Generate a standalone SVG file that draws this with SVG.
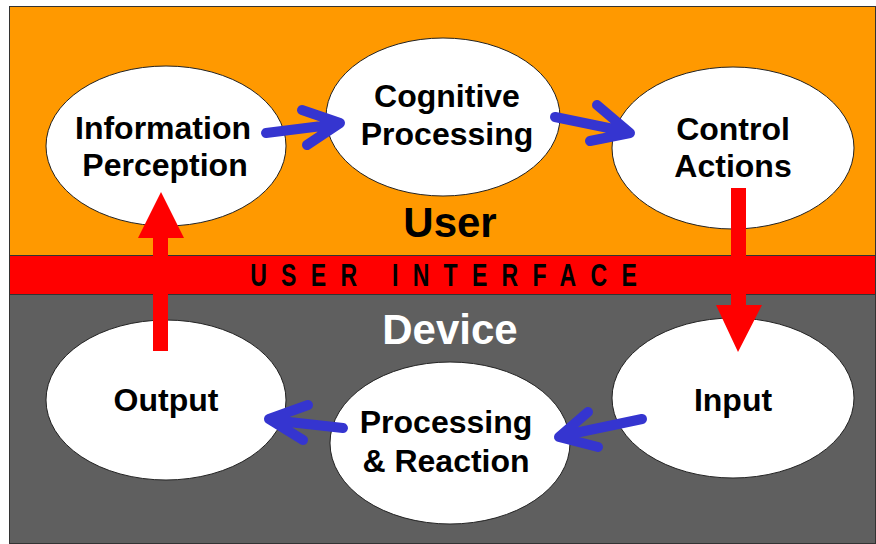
<svg xmlns="http://www.w3.org/2000/svg" width="876" height="544" viewBox="0 0 876 544">
<style>
.node ellipse{fill:#fff;stroke:#222;stroke-width:1}
.lbl{font-family:"Liberation Sans",Arial,sans-serif;font-weight:bold;font-size:32px;fill:#000;text-anchor:middle}
.big{font-family:"Liberation Sans",Arial,sans-serif;font-weight:bold;font-size:42px;text-anchor:middle}
.blue{fill:none;stroke:#3535D0;stroke-width:10;stroke-linecap:round;stroke-linejoin:round}
.red{fill:#FF0000;stroke:none}
</style>
<rect width="876" height="544" fill="#fff"/>
<g id="background">
<rect x="9.5" y="6.5" width="866" height="249" fill="#FF9900" stroke="#333" stroke-width="1"/>
<rect x="9.5" y="294.5" width="866" height="249" fill="#5F5F5F" stroke="#333" stroke-width="1"/>
<rect x="9.5" y="255.5" width="866" height="39" fill="#FF0000" stroke="#333" stroke-width="1"/>
<text transform="translate(443.5,286) scale(0.72,1)" x="0" y="0" font-family="'Liberation Sans',Arial,sans-serif" font-weight="bold" font-size="32" fill="#000" text-anchor="middle" textLength="537" lengthAdjust="spacing">USER INTERFACE</text>
<text class="big" x="450" y="237" fill="#000">User</text>
<text class="big" x="450" y="344" fill="#fff">Device</text>
</g>
<g id="info-perception" class="node">
<ellipse cx="166" cy="146" rx="120" ry="80"/>
<text class="lbl" x="163" y="139">Information</text>
<text class="lbl" x="165" y="176">Perception</text>
</g>
<g id="cognitive-processing" class="node">
<ellipse cx="443" cy="117" rx="117" ry="79"/>
<text class="lbl" x="447" y="107">Cognitive</text>
<text class="lbl" x="447" y="145">Processing</text>
</g>
<g id="control-actions" class="node">
<ellipse cx="733" cy="148" rx="121" ry="81"/>
<text class="lbl" x="733" y="140">Control</text>
<text class="lbl" x="733" y="177">Actions</text>
</g>
<g id="input" class="node">
<ellipse cx="733" cy="398" rx="121" ry="80"/>
<text class="lbl" x="733" y="411">Input</text>
</g>
<g id="processing-reaction" class="node">
<ellipse cx="450" cy="443" rx="120" ry="81"/>
<text class="lbl" x="446" y="433">Processing</text>
<text class="lbl" x="446" y="472">&amp; Reaction</text>
</g>
<g id="output" class="node">
<ellipse cx="166" cy="400" rx="120" ry="80"/>
<text class="lbl" x="166" y="411">Output</text>
</g>
<g id="connectors">
<path class="red" d="M153,351 L153,238 L138,238 L161,192 L184,238 L168,238 L168,351 Z"/>
<path class="red" d="M731,188 L746,188 L746,305 L762,305 L738,352 L716,305 L731,305 Z"/>
<path class="blue" d="M266,133 L338,124 M302,110 L340,123 L307,145"/>
<path class="blue" d="M555,117 L628,132 M597,105 L630,133 L590,141"/>
<path class="blue" d="M642,419 L561,436 M588,412 L559,437 L598,447"/>
<path class="blue" d="M343,428 L271,420 M308,405 L269,419 L303,440"/>
</g>
</svg>
